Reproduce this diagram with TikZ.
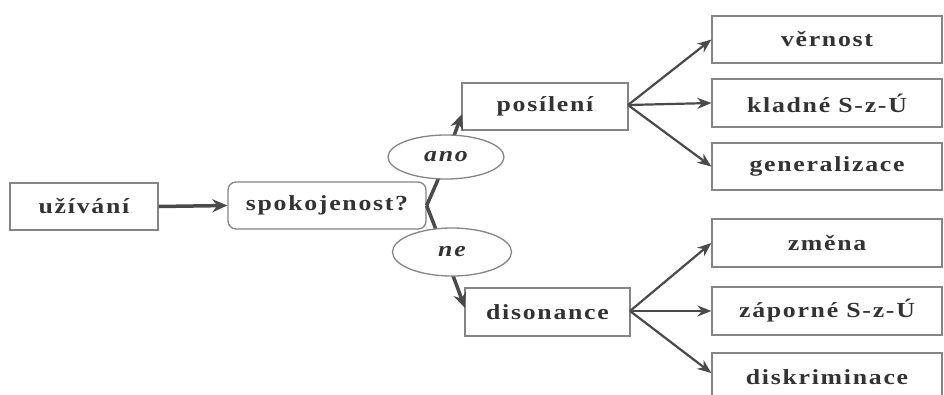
\documentclass[tikz,border=0pt]{standalone}
\usepackage{fontspec}
\newfontfamily\lbl{Liberation Serif}[FakeStretch=1.2, LetterSpace=8]
\usetikzlibrary{arrows.meta,shapes.geometric,calc}
\definecolor{txt}{HTML}{333333}
\definecolor{brd}{HTML}{858585}
\definecolor{arr}{HTML}{4A4A4A}
\tikzset{
  box/.style={draw=brd, line width=1.3pt, fill=white, text=txt, inner sep=0pt,
    font=\lbl\bfseries\fontsize{21.5}{24}\selectfont, minimum height=47pt},
  rbox/.style={box, rounded corners=8pt},
  oval/.style={ellipse, draw=brd, line width=1.3pt, fill=white, text=txt, inner sep=0pt,
    font=\lbl\bfseries\itshape\fontsize{21.5}{24}\selectfont},
  thick arrow/.style={draw=arr, line width=3.5pt, -{Stealth[length=15pt,width=13pt]}},
  thin arrow/.style={draw=arr, line width=2.2pt, -{Stealth[length=14pt,width=11pt]}}
}
\begin{document}
\begin{tikzpicture}[x=1pt,y=-1pt]
\useasboundingbox (0,0) rectangle (944,394);
\clip (0,0) rectangle (944,394);
\fill[white] (0,0) rectangle (944,394);
% nodes
\node[box, minimum width=148pt] (uziv) at (84,206.5) {užívání};
\node[rbox, minimum width=198pt] (spok) at (327,205.5) {spokojenost?};
\node[box, minimum width=166pt] (pos) at (545,106.5) {posílení};
\node[box, minimum width=165pt, minimum height=48pt] (dis) at (547.5,312) {disonance};
\node[box, minimum width=230pt] (ver) at (827,39.5) {věrnost};
\node[box, minimum width=230pt, minimum height=48pt] (kla) at (827,103) {kladné S-z-Ú};
\node[box, minimum width=230pt] (gen) at (827,166.5) {generalizace};
\node[box, minimum width=230pt, minimum height=48pt] (zme) at (827,243) {změna};
\node[box, minimum width=230pt, minimum height=48pt] (zap) at (827,311) {záporné S-z-Ú};
\node[box, minimum width=230pt, minimum height=48pt] (dsk) at (827,377) {diskriminace};
% coordinates
\coordinate (kup) at (437,182);
\coordinate (kdn) at (435,227);
\coordinate (posin) at (462,114);
\coordinate (disin) at (465,308);
% connectors
\draw[thick arrow] (uziv.east) -- (spok.west);
\draw[thick arrow] (spok.east) -- (kup) -- (posin);
\draw[thick arrow] (spok.east) -- (kdn) -- (disin);
\node[oval, minimum width=116pt, minimum height=44pt] (ano) at (446,157) {ano};
\node[oval, minimum width=119pt, minimum height=48pt] (ne) at (452,252) {ne};
\coordinate (po) at (628,105);
\coordinate (do) at (630,311);
\draw[thin arrow] (po) -- (ver.west);
\draw[thin arrow] (po) -- (kla.west);
\draw[thin arrow] (po) -- (gen.west);
\draw[thin arrow] (do) -- (zme.west);
\draw[thin arrow] (do) -- (zap.west);
\draw[thin arrow] (do) -- ($(dsk.west)+(0,-4)$);
\end{tikzpicture}
\end{document}
